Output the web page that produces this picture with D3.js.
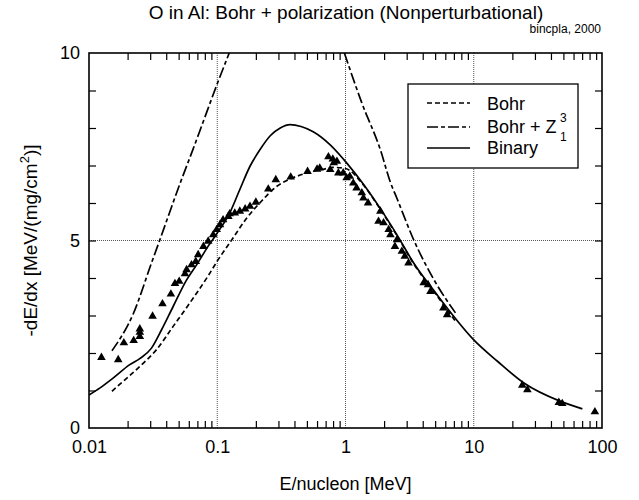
<!DOCTYPE html>
<html>
<head>
<meta charset="utf-8">
<script src="https://cdn.jsdelivr.net/npm/d3@7"></script>
<style>
  body { margin: 0; background: #fff; }
  text { font-family: "Liberation Sans", Arial, sans-serif; fill: #000; }
</style>
</head>
<body>
<div id="chart"></div>
<script>
// ----------------------------------
// DATA
// ----------------------------------

// Bohr (dashed)
const bohrE = [0.0151, 0.0159, 0.0249, 0.0336, 0.0453, 0.061, 0.085, 0.1, 0.13, 0.17, 0.22, 0.29, 0.37, 0.5, 0.67, 0.8, 1.0, 1.38, 1.87, 2.52, 3.4, 5.18, 7.2];
const bohrS = [0.98, 1.05, 1.64, 2.09, 2.71, 3.33, 4.06, 4.45, 5.02, 5.6, 6.04, 6.44, 6.64, 6.8, 6.9, 6.95, 6.92, 6.48, 5.83, 5.13, 4.38, 3.52, 2.85];

// Bohr + Z1^3 (dash-dot); null = off the top of the frame
const bohrZE = [0.0151, 0.0221, 0.0307, 0.0357, 0.051, 0.065, 0.0755, 0.1, 0.124, 0.5, 0.98, 1.34, 1.87, 2.24, 2.52, 3.4, 4.9, 7.2];
const bohrZS = [2.06, 3.04, 4.4, 5.02, 6.5, 7.45, 8.05, 9.18, 10, null, 10, 8.67, 7.42, 6.55, 6.12, 5.02, 3.95, 3.07];

// Binary (solid)
const binaryE = [0.01, 0.0122, 0.0154, 0.0208, 0.0249, 0.0307, 0.0368, 0.0453, 0.0577, 0.069, 0.085, 0.1, 0.125, 0.15, 0.18, 0.215, 0.26, 0.31, 0.37, 0.45, 0.56, 0.76, 1.02, 1.38, 1.87, 2.52, 3.4, 5.18, 6.2, 10, 15.3, 24.6, 47.5, 70.3];
const binaryS = [0.88, 1.07, 1.33, 1.69, 1.85, 2.13, 2.62, 3.24, 3.95, 4.35, 4.85, 5.2, 5.73, 6.36, 6.98, 7.42, 7.8, 8.0, 8.09, 8.04, 7.9, 7.55, 7.07, 6.5, 5.85, 5.15, 4.4, 3.55, 3.2, 2.35, 1.78, 1.2, 0.71, 0.51];

// measured points (triangles)
const expE = [0.0125, 0.0169, 0.0187, 0.0223, 0.0249, 0.0249, 0.0249, 0.0313, 0.0374, 0.0435, 0.0468, 0.0505, 0.056, 0.0577, 0.063, 0.068,
  0.071, 0.078, 0.085, 0.093, 0.099, 0.105, 0.111, 0.122, 0.125, 0.137, 0.15, 0.165, 0.18, 0.2, 0.25, 0.286, 0.374, 0.506, 0.6, 0.63,
  0.736, 0.796, 0.76, 0.857, 0.88, 0.81, 0.96, 1.02, 1.08, 1.15, 1.22, 1.34, 1.38, 1.5, 1.87, 1.81, 1.98, 2.17, 2.24, 2.52, 2.43,
  2.75, 2.9, 3.1, 4.07, 4.4, 4.6, 5.8, 6.2, 23.9, 26.2, 46.1, 49, 88];
const expS = [1.88, 1.82, 2.27, 2.33, 2.44, 2.55, 2.64, 2.98, 3.31, 3.57, 3.85, 3.91, 4.11, 4.22, 4.35, 4.44,
  4.62, 4.84, 4.98, 5.15, 5.29, 5.42, 5.55, 5.64, 5.71, 5.73, 5.78, 5.84, 5.91, 6.02, 6.37, 6.62, 6.69, 6.84, 6.9, 6.93,
  7.23, 7.17, 6.89, 7.11, 6.8, 7.07, 6.8, 6.67, 6.71, 6.53, 6.4, 6.27, 6.13, 6.0, 5.78, 5.51, 5.47, 5.29, 5.15, 5.02, 4.84,
  4.71, 4.58, 4.4, 3.87, 3.82, 3.64, 3.2, 3.02, 1.14, 1.02, 0.68, 0.65, 0.43];

const xTickValues = [0.01, 0.1, 1, 10, 100];
const xTickLabels = ['0.01', '0.1', '1', '10', '100'];
const yTickValues = [0, 5, 10];

// ----------------------------------
// SIZES + SCALES
// ----------------------------------

const width = 639, height = 500;
const margin = { top: 53, right: 37, bottom: 72, left: 89 };
const innerWidth = width - margin.left - margin.right,
      innerHeight = height - margin.top - margin.bottom;

const xScale = d3.scaleLog().domain([0.01, 100]).range([0, innerWidth]);
const yScale = d3.scaleLinear().domain([0, 10]).range([innerHeight, 0]);

const svg = d3.select('#chart').append('svg')
  .attr('width', width)
  .attr('height', height);

svg.append('defs').append('clipPath').attr('id', 'plotClip')
  .append('rect').attr('width', innerWidth).attr('height', innerHeight);

const chartInner = svg.append('g')
  .attr('transform', `translate(${margin.left},${margin.top})`);

// ----------------------------------
// GRID (dotted)
// ----------------------------------

const grid = chartInner.append('g')
  .attr('stroke', '#555')
  .attr('stroke-width', 1)
  .attr('stroke-dasharray', '1,1');

grid.selectAll('.vgrid')
  .data([0.1, 1, 10])
  .enter().append('line')
  .attr('x1', d => xScale(d)).attr('x2', d => xScale(d))
  .attr('y1', 0).attr('y2', innerHeight);

grid.append('line')
  .attr('x1', 0).attr('x2', innerWidth)
  .attr('y1', yScale(5)).attr('y2', yScale(5));

// ----------------------------------
// TICKS (inside the frame, all four sides)
// ----------------------------------

const minorTicks = xScale.ticks().filter(d => !xTickValues.includes(d));
const yMinor = d3.range(1, 10);

// tick marks only: drop the domain path and the empty labels
const marksOnly = g => {
  g.select('.domain').remove();
  g.selectAll('.tick text').remove();
};

chartInner.append('g')
  .attr('transform', `translate(0,${innerHeight})`)
  .call(d3.axisBottom(xScale).tickValues(minorTicks).tickSize(-7))
  .call(marksOnly);

chartInner.append('g')
  .call(d3.axisTop(xScale).tickValues(minorTicks).tickSize(-7))
  .call(marksOnly);

chartInner.append('g')
  .call(d3.axisLeft(yScale).tickValues(yMinor).tickSize(-7))
  .call(marksOnly);

chartInner.append('g')
  .attr('transform', `translate(${innerWidth},0)`)
  .call(d3.axisRight(yScale).tickValues(yMinor).tickSize(-7))
  .call(marksOnly);

chartInner.selectAll('.tick line').attr('stroke', '#000').attr('stroke-width', 1.2);

// tick labels
const xLab = chartInner.append('g')
  .attr('transform', `translate(0,${innerHeight})`)
  .call(d3.axisBottom(xScale).tickValues(xTickValues).tickSize(0).tickPadding(12)
    .tickFormat((d, i) => xTickLabels[i]));
xLab.select('.domain').remove();
xLab.selectAll('text').style('font-size', '18px').style('font-family', '"Liberation Sans", Arial, sans-serif').attr('fill', '#000');

const yLab = chartInner.append('g')
  .call(d3.axisLeft(yScale).tickValues(yTickValues).tickSize(0).tickPadding(9));
yLab.select('.domain').remove();
yLab.selectAll('text').style('font-size', '18px').style('font-family', '"Liberation Sans", Arial, sans-serif').attr('fill', '#000');

// ----------------------------------
// CURVES + POINTS
// ----------------------------------

const toPts = (xs, ys) => xs.map((e, i) => ({ e: e, s: ys[i] }));
const line = d3.line()
  .defined(d => d.s !== null)
  .x(d => xScale(d.e))
  .y(d => yScale(d.s))
  .curve(d3.curveMonotoneX);

const curves = chartInner.append('g').attr('clip-path', 'url(#plotClip)');

const series = [
  { pts: toPts(bohrE, bohrS), dash: '5,3' },
  { pts: toPts(bohrZE, bohrZS), dash: '11,3,4,3' },
  { pts: toPts(binaryE, binaryS), dash: null }
];

series.forEach(s => {
  curves.append('path')
    .datum(s.pts)
    .attr('d', line)
    .attr('fill', 'none')
    .attr('stroke', '#000')
    .attr('stroke-width', 1.7)
    .attr('stroke-dasharray', s.dash);
});

curves.selectAll('.pt')
  .data(toPts(expE, expS))
  .enter().append('path')
  .attr('d', d3.symbol().type(d3.symbolTriangle).size(32))
  .attr('transform', d => `translate(${xScale(d.e)},${yScale(d.s)})`)
  .attr('fill', '#000');

// frame
chartInner.append('rect')
  .attr('width', innerWidth).attr('height', innerHeight)
  .attr('fill', 'none').attr('stroke', '#000').attr('stroke-width', 1.6);

// ----------------------------------
// LEGEND
// ----------------------------------

const legend = svg.append('g').attr('transform', 'translate(408,84)');
legend.append('rect')
  .attr('width', 170).attr('height', 84)
  .attr('fill', '#fff').attr('stroke', '#000').attr('stroke-width', 1.3);

const legendRows = [
  { dash: '5,3', y: 19 },
  { dash: '11,3,4,3', y: 43 },
  { dash: null, y: 64 }
];
legendRows.forEach(r => {
  legend.append('line')
    .attr('x1', 19).attr('x2', 62).attr('y1', r.y).attr('y2', r.y)
    .attr('stroke', '#000').attr('stroke-width', 1.7)
    .attr('stroke-dasharray', r.dash);
});
legend.append('text').attr('x', 79).attr('y', 26).style('font-size', '18px').text('Bohr');
legend.append('text').attr('x', 79).attr('y', 49).style('font-size', '18px').text('Bohr + Z');
legend.append('text').attr('x', 152).attr('y', 38).style('font-size', '12px').text('3');
legend.append('text').attr('x', 152).attr('y', 57).style('font-size', '12px').text('1');
legend.append('text').attr('x', 79).attr('y', 70).style('font-size', '18px').text('Binary');

// ----------------------------------
// TITLES
// ----------------------------------

svg.append('text')
  .attr('x', 346).attr('y', 19)
  .attr('text-anchor', 'middle')
  .style('font-size', '19px')
  .text('O in Al: Bohr + polarization (Nonperturbational)');

svg.append('text')
  .attr('x', 601).attr('y', 33)
  .attr('text-anchor', 'end')
  .style('font-size', '12px')
  .text('bincpla, 2000');

svg.append('text')
  .attr('x', margin.left + innerWidth / 2).attr('y', 490)
  .attr('text-anchor', 'middle')
  .style('font-size', '18px')
  .text('E/nucleon [MeV]');

const yTitle = svg.append('text')
  .attr('transform', `translate(37,${margin.top + innerHeight / 2}) rotate(-90)`)
  .attr('text-anchor', 'middle')
  .style('font-size', '19px');
yTitle.append('tspan').text('-dE/dx [MeV/(mg/cm');
yTitle.append('tspan').attr('dy', -8).style('font-size', '13px').text('2');
yTitle.append('tspan').attr('dy', 8).text(')]');
</script>
</body>
</html>
